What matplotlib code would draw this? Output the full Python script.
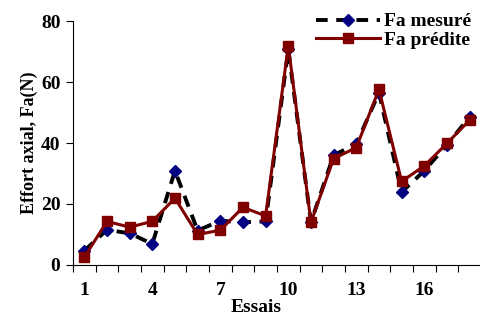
import numpy as np
import matplotlib.pyplot as plt

essais = np.arange(1, 19)
fa_mesure = [4.7, 11.5, 10.4, 6.9, 30.9, 11.3, 14.5, 14.0, 14.3, 70.7,
             14.0, 36.0, 39.7, 56.5, 23.9, 30.9, 39.4, 48.6]
fa_predite = [2.5, 14.3, 12.4, 14.3, 21.9, 10.0, 11.4, 18.9, 16.1, 71.9,
              14.0, 34.9, 38.5, 57.6, 27.4, 32.5, 39.9, 47.5]
x_labels = ['1', '4', '7', '10', '13', '16']

plt.rcParams['font.family'] = ['Liberation Serif', 'DejaVu Serif']
plt.rcParams['font.weight'] = 'bold'

fig = plt.figure(figsize=(4.8, 3.2), dpi=100)
ax = fig.add_axes([0.152, 0.172, 0.85, 0.762])

ax.plot(essais, fa_mesure, color='black', linestyle=(0, (3, 2.2)), lw=2.8,
        marker='D', markersize=6.5, markerfacecolor='#000080',
        markeredgecolor='#000080', label='Fa mesuré')
ax.plot(essais, fa_predite, color='#800000', lw=2.2, marker='s',
        markersize=7.5, label='Fa prédite')

ax.set_xlim(0.5, 18.5)
ax.set_ylim(0, 80)
ax.set_yticks([0, 20, 40, 60, 80])
ax.set_xticks(np.arange(0.5, 19, 1))
ax.set_xticklabels([])
ax.set_xticks([1, 4, 7, 10, 13, 16], minor=True)
ax.set_xticklabels(x_labels, minor=True)
ax.tick_params(axis='x', which='minor', length=0, pad=12, labelsize=14)
ax.tick_params(axis='x', which='major', length=5, direction='out')
ax.tick_params(axis='y', length=5, labelsize=14, pad=4)
for s in ['top', 'right']:
    ax.spines[s].set_visible(False)

ax.set_ylabel('Effort axial, Fa(N)', fontsize=13, fontweight='bold', labelpad=2)
ax.set_xlabel('Essais', fontsize=14, fontweight='bold')
ax.xaxis.set_label_coords(0.45, -0.14)

ax.legend(loc='upper right', bbox_to_anchor=(1.01, 1.09), frameon=False,
          fontsize=14, handlelength=3.3, labelspacing=0.05, borderpad=0.2,
          handletextpad=0.2)

fig.savefig('out.png', dpi=100)
